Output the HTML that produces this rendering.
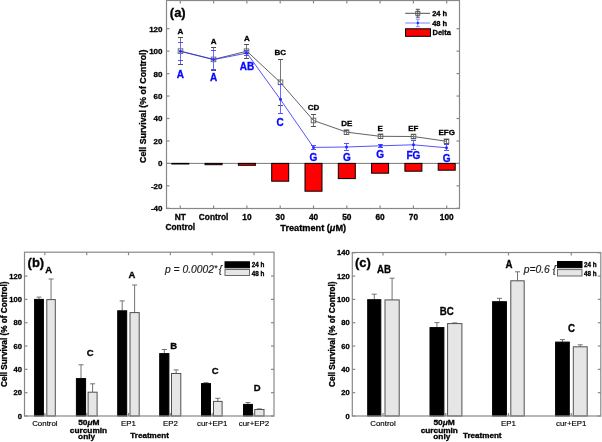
<!DOCTYPE html>
<html><head><meta charset="utf-8"><style>
html,body{margin:0;padding:0;background:#fff;width:602px;height:442px;overflow:hidden}
svg{display:block;filter:blur(0.35px)}
text{font-family:"Liberation Sans", sans-serif}
</style></head><body>
<svg width="602" height="442" viewBox="0 0 602 442">
<rect x="0" y="0" width="602" height="442" fill="#fff"/>
<line x1="166.50" y1="163.40" x2="459.50" y2="163.40" stroke="#7a7a7a" stroke-width="1" />
<rect x="171.80" y="163.40" width="17.00" height="0.60" fill="#ff0000" stroke="#000" stroke-width="1" />
<rect x="205.10" y="163.40" width="17.00" height="1.30" fill="#ff0000" stroke="#000" stroke-width="1" />
<rect x="238.40" y="163.40" width="17.00" height="1.90" fill="#ff0000" stroke="#000" stroke-width="1" />
<rect x="271.70" y="163.40" width="17.00" height="17.80" fill="#ff0000" stroke="#000" stroke-width="1" />
<rect x="305.00" y="163.40" width="17.00" height="27.80" fill="#ff0000" stroke="#000" stroke-width="1" />
<rect x="338.30" y="163.40" width="17.00" height="15.20" fill="#ff0000" stroke="#000" stroke-width="1" />
<rect x="371.60" y="163.40" width="17.00" height="9.80" fill="#ff0000" stroke="#000" stroke-width="1" />
<rect x="404.90" y="163.40" width="17.00" height="7.80" fill="#ff0000" stroke="#000" stroke-width="1" />
<rect x="438.20" y="163.40" width="17.00" height="6.80" fill="#ff0000" stroke="#000" stroke-width="1" />
<polyline points="180.30,51.10 213.60,59.40 246.90,51.20 280.20,82.30 313.50,120.50 346.80,132.20 380.10,136.30 413.40,136.50 446.70,141.30" fill="none" stroke="#505050" stroke-width="0.9"/>
<line x1="180.50" y1="37.50" x2="180.50" y2="64.50" stroke="#777" stroke-width="1" />
<line x1="178.00" y1="37.50" x2="183.00" y2="37.50" stroke="#505050" stroke-width="1" />
<line x1="178.00" y1="64.50" x2="183.00" y2="64.50" stroke="#505050" stroke-width="1" />
<rect x="178.20" y="48.80" width="4.60" height="4.60" fill="none" stroke="#606060" stroke-width="0.9" />
<line x1="213.50" y1="47.50" x2="213.50" y2="70.50" stroke="#777" stroke-width="1" />
<line x1="211.00" y1="47.50" x2="216.00" y2="47.50" stroke="#505050" stroke-width="1" />
<line x1="211.00" y1="70.50" x2="216.00" y2="70.50" stroke="#505050" stroke-width="1" />
<rect x="211.20" y="57.10" width="4.60" height="4.60" fill="none" stroke="#606060" stroke-width="0.9" />
<line x1="246.50" y1="44.50" x2="246.50" y2="58.50" stroke="#777" stroke-width="1" />
<line x1="244.00" y1="44.50" x2="249.00" y2="44.50" stroke="#505050" stroke-width="1" />
<line x1="244.00" y1="58.50" x2="249.00" y2="58.50" stroke="#505050" stroke-width="1" />
<rect x="244.20" y="48.90" width="4.60" height="4.60" fill="none" stroke="#606060" stroke-width="0.9" />
<line x1="280.50" y1="59.50" x2="280.50" y2="105.50" stroke="#777" stroke-width="1" />
<line x1="278.00" y1="59.50" x2="283.00" y2="59.50" stroke="#505050" stroke-width="1" />
<line x1="278.00" y1="105.50" x2="283.00" y2="105.50" stroke="#505050" stroke-width="1" />
<rect x="278.20" y="80.00" width="4.60" height="4.60" fill="none" stroke="#606060" stroke-width="0.9" />
<line x1="313.50" y1="114.50" x2="313.50" y2="126.50" stroke="#777" stroke-width="1" />
<line x1="311.00" y1="114.50" x2="316.00" y2="114.50" stroke="#505050" stroke-width="1" />
<line x1="311.00" y1="126.50" x2="316.00" y2="126.50" stroke="#505050" stroke-width="1" />
<rect x="311.20" y="118.20" width="4.60" height="4.60" fill="none" stroke="#606060" stroke-width="0.9" />
<line x1="346.50" y1="130.50" x2="346.50" y2="134.50" stroke="#777" stroke-width="1" />
<line x1="344.00" y1="130.50" x2="349.00" y2="130.50" stroke="#505050" stroke-width="1" />
<line x1="344.00" y1="134.50" x2="349.00" y2="134.50" stroke="#505050" stroke-width="1" />
<rect x="344.20" y="129.90" width="4.60" height="4.60" fill="none" stroke="#606060" stroke-width="0.9" />
<line x1="380.50" y1="134.50" x2="380.50" y2="138.50" stroke="#777" stroke-width="1" />
<line x1="378.00" y1="134.50" x2="383.00" y2="134.50" stroke="#505050" stroke-width="1" />
<line x1="378.00" y1="138.50" x2="383.00" y2="138.50" stroke="#505050" stroke-width="1" />
<rect x="378.20" y="134.00" width="4.60" height="4.60" fill="none" stroke="#606060" stroke-width="0.9" />
<line x1="413.50" y1="134.50" x2="413.50" y2="138.50" stroke="#777" stroke-width="1" />
<line x1="411.00" y1="134.50" x2="416.00" y2="134.50" stroke="#505050" stroke-width="1" />
<line x1="411.00" y1="138.50" x2="416.00" y2="138.50" stroke="#505050" stroke-width="1" />
<rect x="411.20" y="134.20" width="4.60" height="4.60" fill="none" stroke="#606060" stroke-width="0.9" />
<line x1="446.50" y1="139.50" x2="446.50" y2="143.50" stroke="#777" stroke-width="1" />
<line x1="444.00" y1="139.50" x2="449.00" y2="139.50" stroke="#505050" stroke-width="1" />
<line x1="444.00" y1="143.50" x2="449.00" y2="143.50" stroke="#505050" stroke-width="1" />
<rect x="444.20" y="139.00" width="4.60" height="4.60" fill="none" stroke="#606060" stroke-width="0.9" />
<polyline points="180.30,51.30 213.60,59.60 246.90,53.10 280.20,99.20 313.50,147.40 346.80,147.00 380.10,145.80 413.40,144.80 446.70,147.80" fill="none" stroke="#2828ff" stroke-width="0.8"/>
<line x1="180.50" y1="42.50" x2="180.50" y2="60.50" stroke="#6a6aff" stroke-width="1" />
<line x1="178.00" y1="42.50" x2="183.00" y2="42.50" stroke="#5050ff" stroke-width="1" />
<line x1="178.00" y1="60.50" x2="183.00" y2="60.50" stroke="#5050ff" stroke-width="1" />
<circle cx="180.50" cy="51.30" r="1.5" fill="#2828ff"/>
<line x1="213.50" y1="50.50" x2="213.50" y2="69.50" stroke="#6a6aff" stroke-width="1" />
<line x1="211.00" y1="50.50" x2="216.00" y2="50.50" stroke="#5050ff" stroke-width="1" />
<line x1="211.00" y1="69.50" x2="216.00" y2="69.50" stroke="#5050ff" stroke-width="1" />
<circle cx="213.50" cy="59.60" r="1.5" fill="#2828ff"/>
<line x1="246.50" y1="50.50" x2="246.50" y2="55.50" stroke="#6a6aff" stroke-width="1" />
<line x1="244.00" y1="50.50" x2="249.00" y2="50.50" stroke="#5050ff" stroke-width="1" />
<line x1="244.00" y1="55.50" x2="249.00" y2="55.50" stroke="#5050ff" stroke-width="1" />
<circle cx="246.50" cy="53.10" r="1.5" fill="#2828ff"/>
<line x1="280.50" y1="84.50" x2="280.50" y2="113.50" stroke="#6a6aff" stroke-width="1" />
<line x1="278.00" y1="84.50" x2="283.00" y2="84.50" stroke="#5050ff" stroke-width="1" />
<line x1="278.00" y1="113.50" x2="283.00" y2="113.50" stroke="#5050ff" stroke-width="1" />
<circle cx="280.50" cy="99.20" r="1.5" fill="#2828ff"/>
<line x1="313.50" y1="145.50" x2="313.50" y2="149.50" stroke="#6a6aff" stroke-width="1" />
<line x1="311.00" y1="145.50" x2="316.00" y2="145.50" stroke="#5050ff" stroke-width="1" />
<line x1="311.00" y1="149.50" x2="316.00" y2="149.50" stroke="#5050ff" stroke-width="1" />
<circle cx="313.50" cy="147.40" r="1.5" fill="#2828ff"/>
<line x1="346.50" y1="143.50" x2="346.50" y2="150.50" stroke="#6a6aff" stroke-width="1" />
<line x1="344.00" y1="143.50" x2="349.00" y2="143.50" stroke="#5050ff" stroke-width="1" />
<line x1="344.00" y1="150.50" x2="349.00" y2="150.50" stroke="#5050ff" stroke-width="1" />
<circle cx="346.50" cy="147.00" r="1.5" fill="#2828ff"/>
<line x1="380.50" y1="144.50" x2="380.50" y2="147.50" stroke="#6a6aff" stroke-width="1" />
<line x1="378.00" y1="144.50" x2="383.00" y2="144.50" stroke="#5050ff" stroke-width="1" />
<line x1="378.00" y1="147.50" x2="383.00" y2="147.50" stroke="#5050ff" stroke-width="1" />
<circle cx="380.50" cy="145.80" r="1.5" fill="#2828ff"/>
<line x1="413.50" y1="140.50" x2="413.50" y2="149.50" stroke="#6a6aff" stroke-width="1" />
<line x1="411.00" y1="140.50" x2="416.00" y2="140.50" stroke="#5050ff" stroke-width="1" />
<line x1="411.00" y1="149.50" x2="416.00" y2="149.50" stroke="#5050ff" stroke-width="1" />
<circle cx="413.50" cy="144.80" r="1.5" fill="#2828ff"/>
<line x1="446.50" y1="144.50" x2="446.50" y2="150.50" stroke="#6a6aff" stroke-width="1" />
<line x1="444.00" y1="144.50" x2="449.00" y2="144.50" stroke="#5050ff" stroke-width="1" />
<line x1="444.00" y1="150.50" x2="449.00" y2="150.50" stroke="#5050ff" stroke-width="1" />
<circle cx="446.50" cy="147.80" r="1.5" fill="#2828ff"/>
<rect x="166.50" y="0.50" width="293.00" height="208.00" fill="none" stroke="#888888" stroke-width="1.2" />
<line x1="166.50" y1="208.30" x2="169.50" y2="208.30" stroke="#888888" stroke-width="1.2" />
<line x1="459.50" y1="208.30" x2="456.50" y2="208.30" stroke="#888888" stroke-width="1.2" />
<text x="162.50" y="211.20" font-size="8" text-anchor="end" font-weight="bold" fill="#000" stroke="#000" stroke-width="0.3"  >-40</text>
<line x1="166.50" y1="185.85" x2="169.50" y2="185.85" stroke="#888888" stroke-width="1.2" />
<line x1="459.50" y1="185.85" x2="456.50" y2="185.85" stroke="#888888" stroke-width="1.2" />
<text x="162.50" y="188.75" font-size="8" text-anchor="end" font-weight="bold" fill="#000" stroke="#000" stroke-width="0.3"  >-20</text>
<line x1="166.50" y1="163.40" x2="169.50" y2="163.40" stroke="#888888" stroke-width="1.2" />
<line x1="459.50" y1="163.40" x2="456.50" y2="163.40" stroke="#888888" stroke-width="1.2" />
<text x="162.50" y="166.30" font-size="8" text-anchor="end" font-weight="bold" fill="#000" stroke="#000" stroke-width="0.3"  >0</text>
<line x1="166.50" y1="140.95" x2="169.50" y2="140.95" stroke="#888888" stroke-width="1.2" />
<line x1="459.50" y1="140.95" x2="456.50" y2="140.95" stroke="#888888" stroke-width="1.2" />
<text x="162.50" y="143.85" font-size="8" text-anchor="end" font-weight="bold" fill="#000" stroke="#000" stroke-width="0.3"  >20</text>
<line x1="166.50" y1="118.50" x2="169.50" y2="118.50" stroke="#888888" stroke-width="1.2" />
<line x1="459.50" y1="118.50" x2="456.50" y2="118.50" stroke="#888888" stroke-width="1.2" />
<text x="162.50" y="121.40" font-size="8" text-anchor="end" font-weight="bold" fill="#000" stroke="#000" stroke-width="0.3"  >40</text>
<line x1="166.50" y1="96.05" x2="169.50" y2="96.05" stroke="#888888" stroke-width="1.2" />
<line x1="459.50" y1="96.05" x2="456.50" y2="96.05" stroke="#888888" stroke-width="1.2" />
<text x="162.50" y="98.95" font-size="8" text-anchor="end" font-weight="bold" fill="#000" stroke="#000" stroke-width="0.3"  >60</text>
<line x1="166.50" y1="73.60" x2="169.50" y2="73.60" stroke="#888888" stroke-width="1.2" />
<line x1="459.50" y1="73.60" x2="456.50" y2="73.60" stroke="#888888" stroke-width="1.2" />
<text x="162.50" y="76.50" font-size="8" text-anchor="end" font-weight="bold" fill="#000" stroke="#000" stroke-width="0.3"  >80</text>
<line x1="166.50" y1="51.15" x2="169.50" y2="51.15" stroke="#888888" stroke-width="1.2" />
<line x1="459.50" y1="51.15" x2="456.50" y2="51.15" stroke="#888888" stroke-width="1.2" />
<text x="162.50" y="54.05" font-size="8" text-anchor="end" font-weight="bold" fill="#000" stroke="#000" stroke-width="0.3"  >100</text>
<line x1="166.50" y1="28.70" x2="169.50" y2="28.70" stroke="#888888" stroke-width="1.2" />
<line x1="459.50" y1="28.70" x2="456.50" y2="28.70" stroke="#888888" stroke-width="1.2" />
<text x="162.50" y="31.60" font-size="8" text-anchor="end" font-weight="bold" fill="#000" stroke="#000" stroke-width="0.3"  >120</text>
<line x1="180.30" y1="0.50" x2="180.30" y2="3.50" stroke="#888888" stroke-width="1.2" />
<line x1="180.30" y1="208.50" x2="180.30" y2="205.50" stroke="#888888" stroke-width="1.2" />
<line x1="213.60" y1="0.50" x2="213.60" y2="3.50" stroke="#888888" stroke-width="1.2" />
<line x1="213.60" y1="208.50" x2="213.60" y2="205.50" stroke="#888888" stroke-width="1.2" />
<line x1="246.90" y1="0.50" x2="246.90" y2="3.50" stroke="#888888" stroke-width="1.2" />
<line x1="246.90" y1="208.50" x2="246.90" y2="205.50" stroke="#888888" stroke-width="1.2" />
<line x1="280.20" y1="0.50" x2="280.20" y2="3.50" stroke="#888888" stroke-width="1.2" />
<line x1="280.20" y1="208.50" x2="280.20" y2="205.50" stroke="#888888" stroke-width="1.2" />
<line x1="313.50" y1="0.50" x2="313.50" y2="3.50" stroke="#888888" stroke-width="1.2" />
<line x1="313.50" y1="208.50" x2="313.50" y2="205.50" stroke="#888888" stroke-width="1.2" />
<line x1="346.80" y1="0.50" x2="346.80" y2="3.50" stroke="#888888" stroke-width="1.2" />
<line x1="346.80" y1="208.50" x2="346.80" y2="205.50" stroke="#888888" stroke-width="1.2" />
<line x1="380.10" y1="0.50" x2="380.10" y2="3.50" stroke="#888888" stroke-width="1.2" />
<line x1="380.10" y1="208.50" x2="380.10" y2="205.50" stroke="#888888" stroke-width="1.2" />
<line x1="413.40" y1="0.50" x2="413.40" y2="3.50" stroke="#888888" stroke-width="1.2" />
<line x1="413.40" y1="208.50" x2="413.40" y2="205.50" stroke="#888888" stroke-width="1.2" />
<line x1="446.70" y1="0.50" x2="446.70" y2="3.50" stroke="#888888" stroke-width="1.2" />
<line x1="446.70" y1="208.50" x2="446.70" y2="205.50" stroke="#888888" stroke-width="1.2" />
<text x="180.30" y="34.00" font-size="8" text-anchor="middle" font-weight="bold" fill="#000" stroke="#000" stroke-width="0.3"  >A</text>
<text x="213.60" y="44.40" font-size="8" text-anchor="middle" font-weight="bold" fill="#000" stroke="#000" stroke-width="0.3"  >A</text>
<text x="246.90" y="40.80" font-size="8" text-anchor="middle" font-weight="bold" fill="#000" stroke="#000" stroke-width="0.3"  >A</text>
<text x="280.20" y="55.40" font-size="8" text-anchor="middle" font-weight="bold" fill="#000" stroke="#000" stroke-width="0.3"  >BC</text>
<text x="313.50" y="110.40" font-size="8" text-anchor="middle" font-weight="bold" fill="#000" stroke="#000" stroke-width="0.3"  >CD</text>
<text x="346.80" y="126.30" font-size="8" text-anchor="middle" font-weight="bold" fill="#000" stroke="#000" stroke-width="0.3"  >DE</text>
<text x="380.10" y="130.80" font-size="8" text-anchor="middle" font-weight="bold" fill="#000" stroke="#000" stroke-width="0.3"  >E</text>
<text x="413.40" y="130.90" font-size="8" text-anchor="middle" font-weight="bold" fill="#000" stroke="#000" stroke-width="0.3"  >EF</text>
<text x="446.70" y="135.30" font-size="8" text-anchor="middle" font-weight="bold" fill="#000" stroke="#000" stroke-width="0.3"  >EFG</text>
<text x="180.30" y="77.80" font-size="10" text-anchor="middle" font-weight="bold" fill="#0808ff" stroke="#0808ff" stroke-width="0.3"  >A</text>
<text x="213.60" y="80.90" font-size="10" text-anchor="middle" font-weight="bold" fill="#0808ff" stroke="#0808ff" stroke-width="0.3"  >A</text>
<text x="246.90" y="69.70" font-size="10" text-anchor="middle" font-weight="bold" fill="#0808ff" stroke="#0808ff" stroke-width="0.3"  >AB</text>
<text x="280.20" y="126.10" font-size="10" text-anchor="middle" font-weight="bold" fill="#0808ff" stroke="#0808ff" stroke-width="0.3"  >C</text>
<text x="313.50" y="160.80" font-size="10" text-anchor="middle" font-weight="bold" fill="#0808ff" stroke="#0808ff" stroke-width="0.3"  >G</text>
<text x="346.80" y="160.80" font-size="10" text-anchor="middle" font-weight="bold" fill="#0808ff" stroke="#0808ff" stroke-width="0.3"  >G</text>
<text x="380.10" y="157.50" font-size="10" text-anchor="middle" font-weight="bold" fill="#0808ff" stroke="#0808ff" stroke-width="0.3"  >G</text>
<text x="413.40" y="159.40" font-size="10" text-anchor="middle" font-weight="bold" fill="#0808ff" stroke="#0808ff" stroke-width="0.3"  >FG</text>
<text x="446.70" y="161.70" font-size="10" text-anchor="middle" font-weight="bold" fill="#0808ff" stroke="#0808ff" stroke-width="0.3"  >G</text>
<text x="169.80" y="17.20" font-size="13" text-anchor="start" font-weight="bold" fill="#000" stroke="#000" stroke-width="0.3"  >(a)</text>
<text x="180.30" y="219.80" font-size="8.3" text-anchor="middle" font-weight="bold" fill="#000" stroke="#000" stroke-width="0.3"  >NT</text>
<text x="213.60" y="219.80" font-size="8.3" text-anchor="middle" font-weight="bold" fill="#000" stroke="#000" stroke-width="0.3"  >Control</text>
<text x="246.90" y="219.80" font-size="8.3" text-anchor="middle" font-weight="bold" fill="#000" stroke="#000" stroke-width="0.3"  >10</text>
<text x="280.20" y="219.80" font-size="8.3" text-anchor="middle" font-weight="bold" fill="#000" stroke="#000" stroke-width="0.3"  >30</text>
<text x="313.50" y="219.80" font-size="8.3" text-anchor="middle" font-weight="bold" fill="#000" stroke="#000" stroke-width="0.3"  >40</text>
<text x="346.80" y="219.80" font-size="8.3" text-anchor="middle" font-weight="bold" fill="#000" stroke="#000" stroke-width="0.3"  >50</text>
<text x="380.10" y="219.80" font-size="8.3" text-anchor="middle" font-weight="bold" fill="#000" stroke="#000" stroke-width="0.3"  >60</text>
<text x="413.40" y="219.80" font-size="8.3" text-anchor="middle" font-weight="bold" fill="#000" stroke="#000" stroke-width="0.3"  >70</text>
<text x="446.70" y="219.80" font-size="8.3" text-anchor="middle" font-weight="bold" fill="#000" stroke="#000" stroke-width="0.3"  >100</text>
<text x="180.30" y="230.30" font-size="8.3" text-anchor="middle" font-weight="bold" fill="#000" stroke="#000" stroke-width="0.3"  >Control</text>
<text x="280.30" y="230.80" font-size="9.2" text-anchor="start" font-weight="bold" fill="#000" stroke="#000" stroke-width="0.3"  >Treatment (<tspan font-style="italic">μ</tspan>M)</text>
<text transform="translate(146.2,106.2) rotate(-90)" font-size="8.8" font-weight="bold" text-anchor="middle" stroke="#000" stroke-width="0.3">Cell Survival (% of Control)</text>
<line x1="405.20" y1="13.30" x2="430.00" y2="13.30" stroke="#505050" stroke-width="1" />
<line x1="417.80" y1="9.30" x2="417.80" y2="17.20" stroke="#505050" stroke-width="1" />
<line x1="415.80" y1="9.30" x2="419.80" y2="9.30" stroke="#505050" stroke-width="1" />
<line x1="415.80" y1="17.20" x2="419.80" y2="17.20" stroke="#505050" stroke-width="1" />
<rect x="415.80" y="11.30" width="4.00" height="4.00" fill="none" stroke="#505050" stroke-width="0.9" />
<text x="432.20" y="16.20" font-size="7.5" text-anchor="start" font-weight="bold" fill="#000" stroke="#000" stroke-width="0.3"  >24 h</text>
<line x1="405.20" y1="23.00" x2="430.00" y2="23.00" stroke="#8080ff" stroke-width="1" />
<line x1="417.80" y1="19.20" x2="417.80" y2="26.70" stroke="#8080ff" stroke-width="1" />
<line x1="415.80" y1="19.20" x2="419.80" y2="19.20" stroke="#8080ff" stroke-width="1" />
<line x1="415.80" y1="26.70" x2="419.80" y2="26.70" stroke="#8080ff" stroke-width="1" />
<circle cx="417.8" cy="23" r="1.2" fill="#2a2aff"/>
<text x="432.20" y="25.90" font-size="7.5" text-anchor="start" font-weight="bold" fill="#000" stroke="#000" stroke-width="0.3"  >48 h</text>
<rect x="405.50" y="28.80" width="25.00" height="7.50" fill="#ff0000" stroke="#000" stroke-width="1" />
<text x="432.50" y="35.20" font-size="7.5" text-anchor="start" font-weight="bold" fill="#000" stroke="#000" stroke-width="0.3"  >Delta</text>
<line x1="39.00" y1="297.10" x2="39.00" y2="299.40" stroke="#727272" stroke-width="1" />
<line x1="36.50" y1="297.10" x2="41.50" y2="297.10" stroke="#727272" stroke-width="1" />
<rect x="34.60" y="299.40" width="8.80" height="116.60" fill="#000" stroke="#000" stroke-width="1" />
<line x1="51.05" y1="279.00" x2="51.05" y2="299.60" stroke="#727272" stroke-width="1" />
<line x1="48.55" y1="279.00" x2="53.55" y2="279.00" stroke="#727272" stroke-width="1" />
<rect x="46.80" y="299.60" width="8.50" height="116.40" fill="#e6e6e6" stroke="#505050" stroke-width="1" />
<line x1="81.00" y1="364.80" x2="81.00" y2="378.60" stroke="#727272" stroke-width="1" />
<line x1="78.50" y1="364.80" x2="83.50" y2="364.80" stroke="#727272" stroke-width="1" />
<rect x="76.40" y="378.60" width="9.20" height="37.40" fill="#000" stroke="#000" stroke-width="1" />
<line x1="92.60" y1="383.80" x2="92.60" y2="392.20" stroke="#727272" stroke-width="1" />
<line x1="90.10" y1="383.80" x2="95.10" y2="383.80" stroke="#727272" stroke-width="1" />
<rect x="88.10" y="392.20" width="9.00" height="23.80" fill="#e6e6e6" stroke="#505050" stroke-width="1" />
<line x1="122.20" y1="300.90" x2="122.20" y2="310.80" stroke="#727272" stroke-width="1" />
<line x1="119.70" y1="300.90" x2="124.70" y2="300.90" stroke="#727272" stroke-width="1" />
<rect x="117.70" y="310.80" width="9.00" height="105.20" fill="#000" stroke="#000" stroke-width="1" />
<line x1="134.60" y1="285.00" x2="134.60" y2="312.60" stroke="#727272" stroke-width="1" />
<line x1="132.10" y1="285.00" x2="137.10" y2="285.00" stroke="#727272" stroke-width="1" />
<rect x="130.00" y="312.60" width="9.20" height="103.40" fill="#e6e6e6" stroke="#505050" stroke-width="1" />
<line x1="164.30" y1="349.50" x2="164.30" y2="353.60" stroke="#727272" stroke-width="1" />
<line x1="161.80" y1="349.50" x2="166.80" y2="349.50" stroke="#727272" stroke-width="1" />
<rect x="159.70" y="353.60" width="9.20" height="62.40" fill="#000" stroke="#000" stroke-width="1" />
<line x1="176.15" y1="369.90" x2="176.15" y2="373.50" stroke="#727272" stroke-width="1" />
<line x1="173.65" y1="369.90" x2="178.65" y2="369.90" stroke="#727272" stroke-width="1" />
<rect x="171.50" y="373.50" width="9.30" height="42.50" fill="#e6e6e6" stroke="#505050" stroke-width="1" />
<line x1="206.00" y1="382.70" x2="206.00" y2="383.60" stroke="#727272" stroke-width="1" />
<line x1="203.50" y1="382.70" x2="208.50" y2="382.70" stroke="#727272" stroke-width="1" />
<rect x="201.50" y="383.60" width="9.00" height="32.40" fill="#000" stroke="#000" stroke-width="1" />
<line x1="217.80" y1="398.30" x2="217.80" y2="401.40" stroke="#727272" stroke-width="1" />
<line x1="215.30" y1="398.30" x2="220.30" y2="398.30" stroke="#727272" stroke-width="1" />
<rect x="213.50" y="401.40" width="8.60" height="14.60" fill="#e6e6e6" stroke="#505050" stroke-width="1" />
<line x1="247.95" y1="402.50" x2="247.95" y2="404.40" stroke="#727272" stroke-width="1" />
<line x1="245.45" y1="402.50" x2="250.45" y2="402.50" stroke="#727272" stroke-width="1" />
<rect x="243.50" y="404.40" width="8.90" height="11.60" fill="#000" stroke="#000" stroke-width="1" />
<line x1="259.35" y1="408.90" x2="259.35" y2="409.50" stroke="#727272" stroke-width="1" />
<line x1="256.85" y1="408.90" x2="261.85" y2="408.90" stroke="#727272" stroke-width="1" />
<rect x="254.70" y="409.50" width="9.30" height="6.50" fill="#e6e6e6" stroke="#505050" stroke-width="1" />
<rect x="24.50" y="252.20" width="249.50" height="163.80" fill="none" stroke="#888888" stroke-width="1.2" />
<line x1="24.50" y1="416.00" x2="27.50" y2="416.00" stroke="#888888" stroke-width="1.2" />
<line x1="274.00" y1="416.00" x2="271.00" y2="416.00" stroke="#888888" stroke-width="1.2" />
<text x="21.90" y="418.70" font-size="7.6" text-anchor="end" font-weight="bold" fill="#000" stroke="#000" stroke-width="0.3"  >0</text>
<line x1="24.50" y1="392.68" x2="27.50" y2="392.68" stroke="#888888" stroke-width="1.2" />
<line x1="274.00" y1="392.68" x2="271.00" y2="392.68" stroke="#888888" stroke-width="1.2" />
<text x="21.90" y="395.38" font-size="7.6" text-anchor="end" font-weight="bold" fill="#000" stroke="#000" stroke-width="0.3"  >20</text>
<line x1="24.50" y1="369.36" x2="27.50" y2="369.36" stroke="#888888" stroke-width="1.2" />
<line x1="274.00" y1="369.36" x2="271.00" y2="369.36" stroke="#888888" stroke-width="1.2" />
<text x="21.90" y="372.06" font-size="7.6" text-anchor="end" font-weight="bold" fill="#000" stroke="#000" stroke-width="0.3"  >40</text>
<line x1="24.50" y1="346.04" x2="27.50" y2="346.04" stroke="#888888" stroke-width="1.2" />
<line x1="274.00" y1="346.04" x2="271.00" y2="346.04" stroke="#888888" stroke-width="1.2" />
<text x="21.90" y="348.74" font-size="7.6" text-anchor="end" font-weight="bold" fill="#000" stroke="#000" stroke-width="0.3"  >60</text>
<line x1="24.50" y1="322.72" x2="27.50" y2="322.72" stroke="#888888" stroke-width="1.2" />
<line x1="274.00" y1="322.72" x2="271.00" y2="322.72" stroke="#888888" stroke-width="1.2" />
<text x="21.90" y="325.42" font-size="7.6" text-anchor="end" font-weight="bold" fill="#000" stroke="#000" stroke-width="0.3"  >80</text>
<line x1="24.50" y1="299.40" x2="27.50" y2="299.40" stroke="#888888" stroke-width="1.2" />
<line x1="274.00" y1="299.40" x2="271.00" y2="299.40" stroke="#888888" stroke-width="1.2" />
<text x="21.90" y="302.10" font-size="7.6" text-anchor="end" font-weight="bold" fill="#000" stroke="#000" stroke-width="0.3"  >100</text>
<line x1="24.50" y1="276.08" x2="27.50" y2="276.08" stroke="#888888" stroke-width="1.2" />
<line x1="274.00" y1="276.08" x2="271.00" y2="276.08" stroke="#888888" stroke-width="1.2" />
<text x="21.90" y="278.78" font-size="7.6" text-anchor="end" font-weight="bold" fill="#000" stroke="#000" stroke-width="0.3"  >120</text>
<line x1="44.90" y1="252.20" x2="44.90" y2="255.20" stroke="#888888" stroke-width="1.2" />
<line x1="44.90" y1="416.00" x2="44.90" y2="413.00" stroke="#888888" stroke-width="1.2" />
<line x1="86.72" y1="252.20" x2="86.72" y2="255.20" stroke="#888888" stroke-width="1.2" />
<line x1="86.72" y1="416.00" x2="86.72" y2="413.00" stroke="#888888" stroke-width="1.2" />
<line x1="128.54" y1="252.20" x2="128.54" y2="255.20" stroke="#888888" stroke-width="1.2" />
<line x1="128.54" y1="416.00" x2="128.54" y2="413.00" stroke="#888888" stroke-width="1.2" />
<line x1="170.36" y1="252.20" x2="170.36" y2="255.20" stroke="#888888" stroke-width="1.2" />
<line x1="170.36" y1="416.00" x2="170.36" y2="413.00" stroke="#888888" stroke-width="1.2" />
<line x1="212.18" y1="252.20" x2="212.18" y2="255.20" stroke="#888888" stroke-width="1.2" />
<line x1="212.18" y1="416.00" x2="212.18" y2="413.00" stroke="#888888" stroke-width="1.2" />
<line x1="254.00" y1="252.20" x2="254.00" y2="255.20" stroke="#888888" stroke-width="1.2" />
<line x1="254.00" y1="416.00" x2="254.00" y2="413.00" stroke="#888888" stroke-width="1.2" />
<text x="48.60" y="273.40" font-size="9.5" text-anchor="middle" font-weight="bold" fill="#000" stroke="#000" stroke-width="0.3"  >A</text>
<text x="90.10" y="355.50" font-size="9.5" text-anchor="middle" font-weight="bold" fill="#000" stroke="#000" stroke-width="0.3"  >C</text>
<text x="132.00" y="278.40" font-size="9.5" text-anchor="middle" font-weight="bold" fill="#000" stroke="#000" stroke-width="0.3"  >A</text>
<text x="173.80" y="349.30" font-size="9.5" text-anchor="middle" font-weight="bold" fill="#000" stroke="#000" stroke-width="0.3"  >B</text>
<text x="215.30" y="373.80" font-size="9.5" text-anchor="middle" font-weight="bold" fill="#000" stroke="#000" stroke-width="0.3"  >C</text>
<text x="257.20" y="391.00" font-size="9.5" text-anchor="middle" font-weight="bold" fill="#000" stroke="#000" stroke-width="0.3"  >D</text>
<text x="27.60" y="266.90" font-size="13" text-anchor="start" font-weight="bold" fill="#000" stroke="#000" stroke-width="0.3"  >(b)</text>
<text x="165.00" y="272.60" font-size="10.3" text-anchor="start" font-weight="normal" fill="#1a1a1a" stroke="#1a1a1a" stroke-width="0.15"  font-style="italic">p = 0.0002<tspan font-size="8.5" dy="-1.2">*</tspan><tspan dy="1.2" dx="1.5">{</tspan></text>
<rect x="225.00" y="261.80" width="24.50" height="6.00" fill="#000" stroke="#000" stroke-width="1" />
<rect x="225.00" y="269.50" width="24.50" height="6.00" fill="#e6e6e6" stroke="#6a6a6a" stroke-width="1" />
<text x="251.70" y="267.20" font-size="6.3" text-anchor="start" font-weight="bold" fill="#000" stroke="#000" stroke-width="0.3"  >24 h</text>
<text x="251.70" y="275.50" font-size="6.3" text-anchor="start" font-weight="bold" fill="#000" stroke="#000" stroke-width="0.3"  >48 h</text>
<text x="44.90" y="425.70" font-size="7.9" text-anchor="middle" font-weight="normal" fill="#000" stroke="#000" stroke-width="0.15"  >Control</text>
<text x="128.54" y="425.70" font-size="7.9" text-anchor="middle" font-weight="normal" fill="#000" stroke="#000" stroke-width="0.15"  >EP1</text>
<text x="170.36" y="425.70" font-size="7.9" text-anchor="middle" font-weight="normal" fill="#000" stroke="#000" stroke-width="0.15"  >EP2</text>
<text x="212.18" y="425.70" font-size="7.9" text-anchor="middle" font-weight="normal" fill="#000" stroke="#000" stroke-width="0.15"  >cur+EP1</text>
<text x="254.00" y="425.70" font-size="7.9" text-anchor="middle" font-weight="normal" fill="#000" stroke="#000" stroke-width="0.15"  >cur+EP2</text>
<text transform="translate(88.90,425.00) scale(1.12,1)" font-size="7.5" text-anchor="middle" font-weight="bold" fill="#000" stroke="#000" stroke-width="0.3" >50<tspan font-style="italic">μ</tspan>M</text>
<text transform="translate(88.50,432.90) scale(1.12,1)" font-size="7.4" text-anchor="middle" font-weight="bold" fill="#000" stroke="#000" stroke-width="0.3" >curcumin</text>
<text transform="translate(86.60,439.00) scale(1.12,1)" font-size="7.4" text-anchor="middle" font-weight="bold" fill="#000" stroke="#000" stroke-width="0.3" >only</text>
<text transform="translate(149.60,437.50) scale(1.08,1)" font-size="7.5" text-anchor="middle" font-weight="bold" fill="#000" stroke="#000" stroke-width="0.3" >Treatment</text>
<text transform="translate(7.3,334.2) rotate(-90)" font-size="8.2" font-weight="bold" text-anchor="middle" stroke="#000" stroke-width="0.3">Cell Survival (% of Control)</text>
<line x1="374.25" y1="294.20" x2="374.25" y2="299.70" stroke="#727272" stroke-width="1" />
<line x1="371.75" y1="294.20" x2="376.75" y2="294.20" stroke="#727272" stroke-width="1" />
<rect x="367.70" y="299.70" width="13.10" height="116.30" fill="#000" stroke="#000" stroke-width="1" />
<line x1="392.10" y1="278.20" x2="392.10" y2="299.90" stroke="#727272" stroke-width="1" />
<line x1="389.60" y1="278.20" x2="394.60" y2="278.20" stroke="#727272" stroke-width="1" />
<rect x="385.00" y="299.90" width="14.20" height="116.10" fill="#e6e6e6" stroke="#505050" stroke-width="1" />
<line x1="436.95" y1="322.60" x2="436.95" y2="327.60" stroke="#727272" stroke-width="1" />
<line x1="434.45" y1="322.60" x2="439.45" y2="322.60" stroke="#727272" stroke-width="1" />
<rect x="430.00" y="327.60" width="13.90" height="88.40" fill="#000" stroke="#000" stroke-width="1" />
<line x1="454.75" y1="322.90" x2="454.75" y2="323.60" stroke="#727272" stroke-width="1" />
<line x1="452.25" y1="322.90" x2="457.25" y2="322.90" stroke="#727272" stroke-width="1" />
<rect x="447.60" y="323.60" width="14.30" height="92.40" fill="#e6e6e6" stroke="#505050" stroke-width="1" />
<line x1="499.50" y1="298.30" x2="499.50" y2="301.70" stroke="#727272" stroke-width="1" />
<line x1="497.00" y1="298.30" x2="502.00" y2="298.30" stroke="#727272" stroke-width="1" />
<rect x="492.60" y="301.70" width="13.80" height="114.30" fill="#000" stroke="#000" stroke-width="1" />
<line x1="517.50" y1="271.80" x2="517.50" y2="280.80" stroke="#727272" stroke-width="1" />
<line x1="515.00" y1="271.80" x2="520.00" y2="271.80" stroke="#727272" stroke-width="1" />
<rect x="510.80" y="280.80" width="13.40" height="135.20" fill="#e6e6e6" stroke="#505050" stroke-width="1" />
<line x1="562.45" y1="339.60" x2="562.45" y2="342.10" stroke="#727272" stroke-width="1" />
<line x1="559.95" y1="339.60" x2="564.95" y2="339.60" stroke="#727272" stroke-width="1" />
<rect x="555.60" y="342.10" width="13.70" height="73.90" fill="#000" stroke="#000" stroke-width="1" />
<line x1="580.25" y1="344.80" x2="580.25" y2="346.80" stroke="#727272" stroke-width="1" />
<line x1="577.75" y1="344.80" x2="582.75" y2="344.80" stroke="#727272" stroke-width="1" />
<rect x="573.30" y="346.80" width="13.90" height="69.20" fill="#e6e6e6" stroke="#505050" stroke-width="1" />
<rect x="352.30" y="252.50" width="248.50" height="163.50" fill="none" stroke="#888888" stroke-width="1.2" />
<line x1="352.30" y1="416.00" x2="355.30" y2="416.00" stroke="#888888" stroke-width="1.2" />
<line x1="600.80" y1="416.00" x2="597.80" y2="416.00" stroke="#888888" stroke-width="1.2" />
<text x="349.70" y="418.70" font-size="7.6" text-anchor="end" font-weight="bold" fill="#000" stroke="#000" stroke-width="0.3"  >0</text>
<line x1="352.30" y1="392.68" x2="355.30" y2="392.68" stroke="#888888" stroke-width="1.2" />
<line x1="600.80" y1="392.68" x2="597.80" y2="392.68" stroke="#888888" stroke-width="1.2" />
<text x="349.70" y="395.38" font-size="7.6" text-anchor="end" font-weight="bold" fill="#000" stroke="#000" stroke-width="0.3"  >20</text>
<line x1="352.30" y1="369.36" x2="355.30" y2="369.36" stroke="#888888" stroke-width="1.2" />
<line x1="600.80" y1="369.36" x2="597.80" y2="369.36" stroke="#888888" stroke-width="1.2" />
<text x="349.70" y="372.06" font-size="7.6" text-anchor="end" font-weight="bold" fill="#000" stroke="#000" stroke-width="0.3"  >40</text>
<line x1="352.30" y1="346.04" x2="355.30" y2="346.04" stroke="#888888" stroke-width="1.2" />
<line x1="600.80" y1="346.04" x2="597.80" y2="346.04" stroke="#888888" stroke-width="1.2" />
<text x="349.70" y="348.74" font-size="7.6" text-anchor="end" font-weight="bold" fill="#000" stroke="#000" stroke-width="0.3"  >60</text>
<line x1="352.30" y1="322.72" x2="355.30" y2="322.72" stroke="#888888" stroke-width="1.2" />
<line x1="600.80" y1="322.72" x2="597.80" y2="322.72" stroke="#888888" stroke-width="1.2" />
<text x="349.70" y="325.42" font-size="7.6" text-anchor="end" font-weight="bold" fill="#000" stroke="#000" stroke-width="0.3"  >80</text>
<line x1="352.30" y1="299.40" x2="355.30" y2="299.40" stroke="#888888" stroke-width="1.2" />
<line x1="600.80" y1="299.40" x2="597.80" y2="299.40" stroke="#888888" stroke-width="1.2" />
<text x="349.70" y="302.10" font-size="7.6" text-anchor="end" font-weight="bold" fill="#000" stroke="#000" stroke-width="0.3"  >100</text>
<line x1="352.30" y1="276.08" x2="355.30" y2="276.08" stroke="#888888" stroke-width="1.2" />
<line x1="600.80" y1="276.08" x2="597.80" y2="276.08" stroke="#888888" stroke-width="1.2" />
<text x="349.70" y="278.78" font-size="7.6" text-anchor="end" font-weight="bold" fill="#000" stroke="#000" stroke-width="0.3"  >120</text>
<line x1="352.30" y1="252.76" x2="355.30" y2="252.76" stroke="#888888" stroke-width="1.2" />
<line x1="600.80" y1="252.76" x2="597.80" y2="252.76" stroke="#888888" stroke-width="1.2" />
<text x="349.70" y="255.46" font-size="7.6" text-anchor="end" font-weight="bold" fill="#000" stroke="#000" stroke-width="0.3"  >140</text>
<line x1="383.00" y1="252.50" x2="383.00" y2="255.50" stroke="#888888" stroke-width="1.2" />
<line x1="383.00" y1="416.00" x2="383.00" y2="413.00" stroke="#888888" stroke-width="1.2" />
<line x1="445.75" y1="252.50" x2="445.75" y2="255.50" stroke="#888888" stroke-width="1.2" />
<line x1="445.75" y1="416.00" x2="445.75" y2="413.00" stroke="#888888" stroke-width="1.2" />
<line x1="508.50" y1="252.50" x2="508.50" y2="255.50" stroke="#888888" stroke-width="1.2" />
<line x1="508.50" y1="416.00" x2="508.50" y2="413.00" stroke="#888888" stroke-width="1.2" />
<line x1="571.25" y1="252.50" x2="571.25" y2="255.50" stroke="#888888" stroke-width="1.2" />
<line x1="571.25" y1="416.00" x2="571.25" y2="413.00" stroke="#888888" stroke-width="1.2" />
<text transform="translate(384.00,273.00) scale(0.94,1)" font-size="10.3" text-anchor="middle" font-weight="bold" fill="#000" stroke="#000" stroke-width="0.3" >AB</text>
<text transform="translate(446.70,315.00) scale(0.94,1)" font-size="10.3" text-anchor="middle" font-weight="bold" fill="#000" stroke="#000" stroke-width="0.3" >BC</text>
<text transform="translate(509.10,268.00) scale(0.94,1)" font-size="10.3" text-anchor="middle" font-weight="bold" fill="#000" stroke="#000" stroke-width="0.3" >A</text>
<text transform="translate(571.60,332.40) scale(0.94,1)" font-size="10.3" text-anchor="middle" font-weight="bold" fill="#000" stroke="#000" stroke-width="0.3" >C</text>
<text x="354.90" y="266.60" font-size="13" text-anchor="start" font-weight="bold" fill="#000" stroke="#000" stroke-width="0.3"  >(c)</text>
<text x="523.80" y="272.60" font-size="10.3" text-anchor="start" font-weight="normal" fill="#1a1a1a" stroke="#1a1a1a" stroke-width="0.15"  font-style="italic">p=0.6 {</text>
<rect x="557.50" y="261.50" width="24.50" height="6.20" fill="#000" stroke="#000" stroke-width="1" />
<rect x="557.50" y="269.60" width="24.50" height="6.40" fill="#e6e6e6" stroke="#6a6a6a" stroke-width="1" />
<text x="584.00" y="267.20" font-size="6.3" text-anchor="start" font-weight="bold" fill="#000" stroke="#000" stroke-width="0.3"  >24 h</text>
<text x="584.00" y="275.70" font-size="6.3" text-anchor="start" font-weight="bold" fill="#000" stroke="#000" stroke-width="0.3"  >48 h</text>
<text x="383.00" y="425.70" font-size="7.9" text-anchor="middle" font-weight="normal" fill="#000" stroke="#000" stroke-width="0.15"  >Control</text>
<text x="508.50" y="425.70" font-size="7.9" text-anchor="middle" font-weight="normal" fill="#000" stroke="#000" stroke-width="0.15"  >EP1</text>
<text x="571.25" y="425.70" font-size="7.9" text-anchor="middle" font-weight="normal" fill="#000" stroke="#000" stroke-width="0.15"  >cur+EP1</text>
<text transform="translate(444.10,425.00) scale(1.12,1)" font-size="7.5" text-anchor="middle" font-weight="bold" fill="#000" stroke="#000" stroke-width="0.3" >50<tspan font-style="italic">μ</tspan>M</text>
<text transform="translate(439.30,432.90) scale(1.12,1)" font-size="7.4" text-anchor="middle" font-weight="bold" fill="#000" stroke="#000" stroke-width="0.3" >curcumin</text>
<text transform="translate(441.80,439.00) scale(1.12,1)" font-size="7.4" text-anchor="middle" font-weight="bold" fill="#000" stroke="#000" stroke-width="0.3" >only</text>
<text transform="translate(462.90,437.50) scale(1.08,1)" font-size="7.5" text-anchor="start" font-weight="bold" fill="#000" stroke="#000" stroke-width="0.3" >Treatment</text>
<text transform="translate(334.8,334.2) rotate(-90)" font-size="8.2" font-weight="bold" text-anchor="middle" stroke="#000" stroke-width="0.3">Cell Survival (% of Control)</text>
</svg></body></html>
